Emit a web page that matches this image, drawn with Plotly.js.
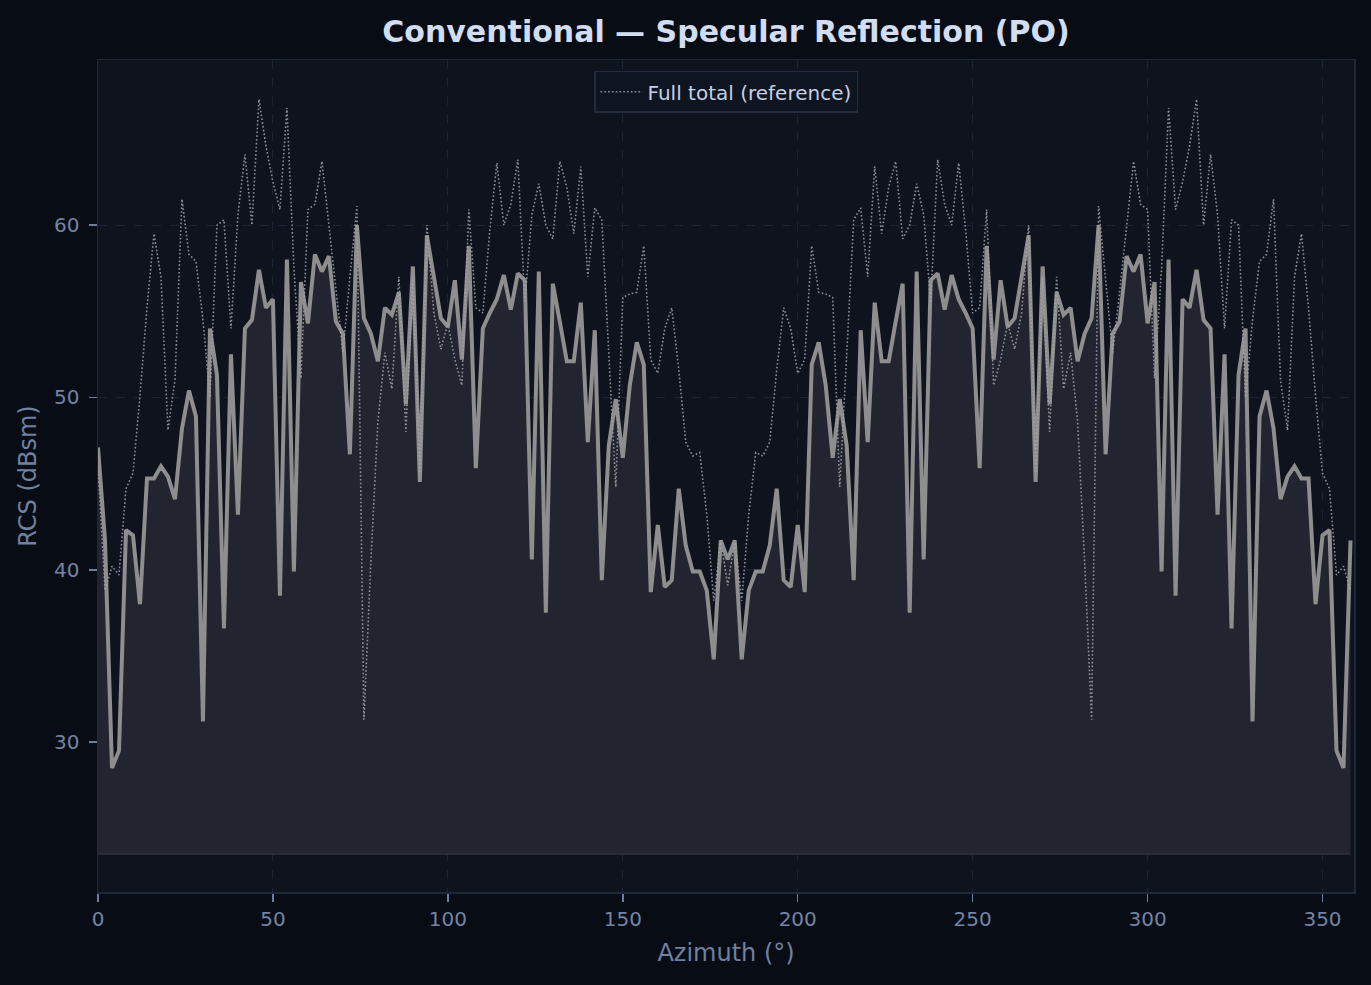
<!DOCTYPE html>
<html>
<head>
<meta charset="utf-8">
<script src="https://cdn.plot.ly/plotly-3.0.1.min.js"></script>
<style>
  html, body { margin: 0; padding: 0; background: #080c14; }
  #rcsPlot { width: 1371px; height: 985px; }
</style>
</head>
<body>
<div id="rcsPlot"></div>
<script>
// azimuth samples every 2 deg
var azimuth = [];
for (var a = 0; a < 360; a += 2) {
    azimuth.push(a)
}

// specular (PO) only, dBsm
var specular = [
    47.1, 41.7, 28.5, 29.5, 42.3, 42.0, 38.0, 45.3, 45.3, 46.0,
    45.4, 44.1, 48.2, 50.4, 48.9, 31.2, 54.0, 51.3, 36.6, 52.5,
    43.2, 54.0, 54.5, 57.4, 55.2, 55.7, 38.5, 58.0, 39.9, 56.7,
    54.3, 58.3, 57.3, 58.2, 54.4, 53.7, 46.7, 60.0, 54.6, 53.7,
    52.1, 55.2, 54.8, 56.1, 49.6, 57.6, 45.1, 59.4, 57.0, 54.6,
    54.1, 56.8, 52.2, 58.8, 45.9, 54.0, 54.9, 55.7, 57.1, 55.1,
    57.2, 56.8, 40.6, 57.3, 37.5, 56.6, 54.4, 52.1, 52.1, 55.5,
    47.4, 53.9, 39.4, 47.2, 49.9, 46.5, 50.7, 53.2, 51.9, 38.7,
    42.6, 39.0, 39.4, 44.7, 41.4, 39.9, 39.9, 38.8, 34.8, 41.7,
    40.6,
    41.7, 34.8, 38.8, 39.9, 39.9, 41.4, 44.7, 39.4, 39.0, 42.6,
    38.7, 51.9, 53.2, 50.7, 46.5, 49.9, 47.2, 39.4, 53.9, 47.4,
    55.5, 52.1, 52.1, 54.4, 56.6, 37.5, 57.3, 40.6, 56.8, 57.2,
    55.1, 57.1, 55.7, 54.9, 54.0, 45.9, 58.8, 52.2, 56.8, 54.1,
    54.6, 57.0, 59.4, 45.1, 57.6, 49.6, 56.1, 54.8, 55.2, 52.1,
    53.7, 54.6, 60.0, 46.7, 53.7, 54.4, 58.2, 57.3, 58.3, 54.3,
    56.7, 39.9, 58.0, 38.5, 55.7, 55.2, 57.4, 54.5, 54.0, 43.2,
    52.5, 36.6, 51.3, 54.0, 31.2, 48.9, 50.4, 48.2, 44.1, 45.4,
    46.0, 45.3, 45.3, 38.0, 42.0, 42.3, 29.5, 28.5, 41.7
];

// full total, dBsm
var fullTotal = [
    46.0, 38.8, 40.2, 39.7, 44.7, 45.6, 50.1, 55.2, 59.5, 57.0,
    48.1, 51.0, 61.5, 58.3, 57.9, 54.5, 50.0, 60.0, 60.3, 54.0,
    60.6, 64.1, 60.0, 67.3, 64.6, 62.5, 60.9, 66.8, 57.5, 51.1,
    60.9, 61.2, 63.7, 60.0, 56.1, 52.6, 57.0, 61.1, 31.3, 40.5,
    48.6, 52.6, 50.5, 57.0, 48.0, 57.0, 45.6, 60.0, 54.9, 52.8,
    54.3, 52.2, 50.7, 60.9, 55.2, 54.9, 59.7, 63.6, 60.0, 61.2,
    63.8, 55.5, 60.6, 62.4, 60.0, 59.2, 63.7, 62.2, 59.5, 63.4,
    57.0, 61.0, 60.3, 52.5, 44.8, 55.8, 56.0, 56.1, 58.8, 52.2,
    51.4, 54.0, 55.2, 51.6, 47.4, 46.6, 46.8, 43.2, 38.2, 41.7,
    39.1,
    41.7, 38.2, 43.2, 46.8, 46.6, 47.4, 51.6, 55.2, 54.0, 51.4,
    52.2, 58.8, 56.1, 56.0, 55.8, 44.8, 52.5, 60.3, 61.0, 57.0,
    63.4, 59.5, 62.2, 63.7, 59.2, 60.0, 62.4, 60.6, 55.5, 63.8,
    61.2, 60.0, 63.6, 59.7, 54.9, 55.2, 60.9, 50.7, 52.2, 54.3,
    52.8, 54.9, 60.0, 45.6, 57.0, 48.0, 57.0, 50.5, 52.6, 48.6,
    40.5, 31.3, 61.1, 57.0, 52.6, 56.1, 60.0, 63.7, 61.2, 60.9,
    51.1, 57.5, 66.8, 60.9, 62.5, 64.6, 67.3, 60.0, 64.1, 60.6,
    54.0, 60.3, 60.0, 50.0, 54.5, 57.9, 58.3, 61.5, 51.0, 48.1,
    57.0, 59.5, 55.2, 50.1, 45.6, 44.7, 39.7, 40.2, 38.8
];

var xTicks = [0, 50, 100, 150, 200, 250, 300, 350];
var yTicks = [30, 40, 50, 60];

// shaded area goes 5 dB under the lowest specular value
var floorDb = Math.min.apply(null, specular) - 5;
var floorLine = azimuth.map(function () { return floorDb; });

var tickColor = '#6e7e9e';
var gridColor = '#1c2433';

var floorTrace = {
    x: azimuth,
    y: floorLine,
    type: 'scatter',
    mode: 'lines',
    line: { color: '#30353f', width: 1.5 },
    hoverinfo: 'skip',
    showlegend: false
}

var specularTrace = {
    x: azimuth,
    y: specular,
    type: 'scatter',
    mode: 'lines',
    fill: 'tonexty',
    fillcolor: '#22252f',
    line: { color: '#8e8e8e', width: 4 },
    name: 'Specular (PO)',
    showlegend: false
}

var totalTrace = {
    x: azimuth,
    y: fullTotal,
    type: 'scatter',
    mode: 'lines',
    line: { color: 'rgba(165,165,172,0.85)', width: 1.6, dash: '1.6px,2.2px' },
    name: 'Full total (reference)'
}

var layout = {
    width: 1371,
    height: 985,
    paper_bgcolor: '#080c14',
    plot_bgcolor: '#0e131e',
    font: { family: 'DejaVu Sans', color: tickColor },
    margin: { l: 98, r: 17, t: 60, b: 93 },
    title: {
        text: '<b>Conventional — Specular Reflection (PO)</b>',
        font: { family: 'DejaVu Sans', size: 30, color: '#d2ddf2' },
        x: 0.5, xref: 'paper', xanchor: 'center',
        y: 1 - 31 / 985, yref: 'container', yanchor: 'middle'
    },
    xaxis: {
        range: [0, 359],
        tickvals: xTicks,
        ticks: 'outside', ticklen: 8, tickwidth: 1.5, tickcolor: tickColor,
        tickfont: { size: 20, color: '#7484a4' },
        showgrid: true, gridcolor: gridColor, griddash: 'dash', gridwidth: 1,
        zeroline: false,
        showline: true, mirror: true, linecolor: '#1f2838', linewidth: 1.5,
        title: { text: 'Azimuth (°)', font: { size: 24, color: '#7080a0' }, standoff: 14 }
    },
    yaxis: {
        range: [21.3, 69.58],
        tickvals: yTicks,
        ticks: 'outside', ticklen: 8, tickwidth: 1.5, tickcolor: tickColor,
        ticklabelstandoff: 5,
        tickfont: { size: 20, color: '#7484a4' },
        showgrid: true, gridcolor: gridColor, griddash: 'dash', gridwidth: 1,
        zeroline: false,
        showline: true, mirror: true, linecolor: '#1f2838', linewidth: 1.5,
        title: { text: 'RCS (dBsm)', font: { size: 24, color: '#7080a0' }, standoff: 10 }
    },
    legend: {
        x: 0.5, xanchor: 'center',
        y: 0.987, yanchor: 'top',
        itemwidth: 42,
        bgcolor: '#0f1520',
        bordercolor: '#222c3d', borderwidth: 1.5,
        font: { size: 20, color: '#c5d0e4' }
    },
    showlegend: true
}

Plotly.newPlot('rcsPlot', [floorTrace, specularTrace, totalTrace], layout, { displayModeBar: false, staticPlot: true });
</script>
</body>
</html>
